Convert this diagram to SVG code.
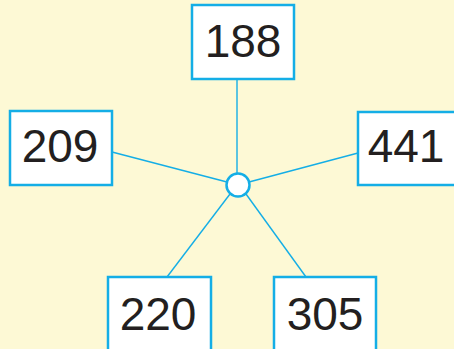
<svg xmlns="http://www.w3.org/2000/svg" width="454" height="349" viewBox="0 0 454 349">
<style>
.box{fill:#ffffff;stroke:#14aee6;stroke-width:2.5}
.lbl{font-family:"Liberation Sans",Arial,sans-serif;font-size:46px;fill:#231f20;text-anchor:middle}
.con{stroke:#14aee6;stroke-width:1.4;fill:none}
</style>
<rect width="454" height="349" fill="#fdf9d5"/>
<g id="connectors">
<line class="con" x1="237" y1="79" x2="237" y2="174"/>
<line class="con" x1="112" y1="152" x2="227" y2="182"/>
<line class="con" x1="358" y1="153" x2="249" y2="182"/>
<line class="con" x1="167" y1="277" x2="230" y2="194"/>
<line class="con" x1="306" y1="277" x2="246" y2="194"/>
</g>
<g id="hub"><circle cx="238" cy="185" r="11.5" fill="#ffffff" stroke="#14aee6" stroke-width="2.5"/></g>
<g id="n188"><rect class="box" x="192" y="5" width="102" height="74"/><text class="lbl" x="243" y="57">188</text></g>
<g id="n209"><rect class="box" x="10" y="111" width="102" height="74"/><text class="lbl" x="60" y="162">209</text></g>
<g id="n441"><rect class="box" x="358" y="112" width="102" height="73"/><text class="lbl" x="406" y="162">441</text></g>
<g id="n220"><rect class="box" x="108" y="277" width="103" height="80"/><text class="lbl" x="158" y="330">220</text></g>
<g id="n305"><rect class="box" x="274" y="277" width="102" height="80"/><text class="lbl" x="325" y="330">305</text></g>
</svg>
